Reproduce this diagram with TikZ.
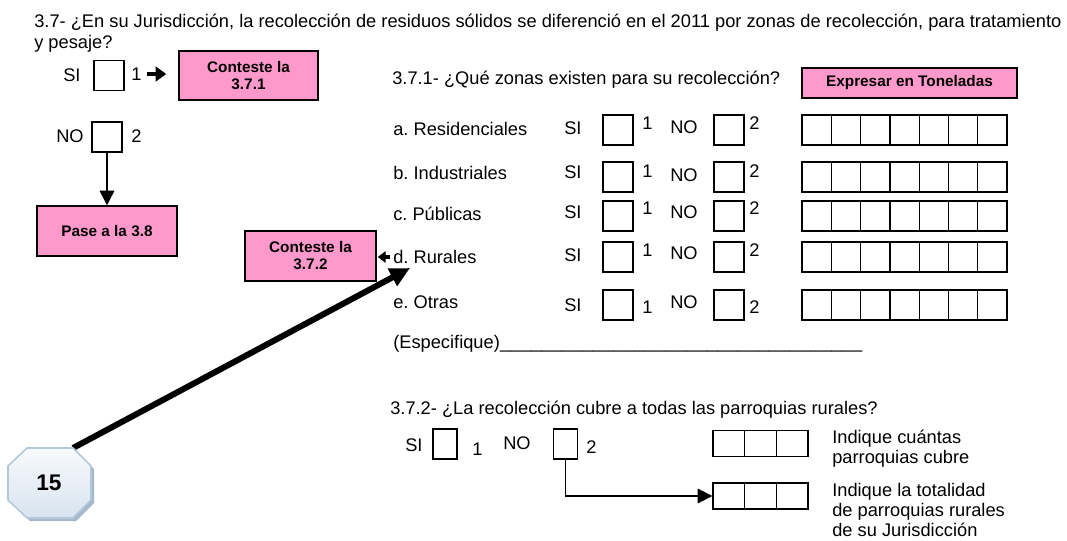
\documentclass[tikz,border=0pt]{standalone}
\usepackage{fontspec}
\setmainfont{Liberation Sans}
\usepackage{tikz}
\usetikzlibrary{arrows.meta,positioning,calc}
\definecolor{boxpink}{HTML}{FF99CC}
\definecolor{octline}{HTML}{B4C8DC}
\definecolor{octtop}{HTML}{F8FAFD}
\definecolor{octbot}{HTML}{D8E3EF}
\definecolor{octshadow}{HTML}{A3B8CC}
\frenchspacing

\begin{document}
\begin{tikzpicture}[x=0.75pt,y=-0.75pt,
    font=\fontsize{13.7}{13.5}\selectfont,
    txt/.style={inner sep=0pt, text height=9.8pt, text depth=0pt},
    chk/.style={draw, line width=1pt, inner sep=0pt, minimum width=22.5pt, minimum height=22.5pt},
    chknarrow/.style={chk, minimum width=18pt},
    cell/.style={draw, line width=1pt, inner sep=0pt, minimum width=21.97pt, minimum height=22.5pt},
    cellwide/.style={cell, minimum width=23.75pt, minimum height=19.5pt},
    pinkbox/.style={draw, fill=boxpink, line width=1.1pt, inner sep=0pt, align=center,
        font=\fontsize{11.5}{12.75}\selectfont\bfseries},
    flow/.style={line width=1.1pt, -{Triangle[length=11pt,width=11pt]}},
    fat/.style={line width=3.6pt, -{Triangle[length=8pt,width=11pt]}},
    small/.style={line width=2.6pt, -{Triangle[length=6pt,width=8.5pt]}},
    big/.style={line width=4.5pt, -{Triangle[length=15pt,width=14pt]}}]
        \useasboundingbox (0,0) rectangle (1067,541);

        %% question 3.7
        \node (q37)[anchor=north west, inner sep=0pt, align=left, font=\fontsize{13.7}{15.5}\selectfont] at (34,14)
            {3.7- ¿En su Jurisdicción, la recolección de residuos sólidos se diferenció en el 2011 por zonas de recolección, para tratamiento\\y pesaje?};
        \node (si)[txt, anchor=west] at (63,75) {SI};
        \node (sibox)[chk] at (109,75.5) {};
        \node (one)[txt, anchor=west] at (131,74) {1};
        \node (a371)[pinkbox, minimum width=104.25pt, minimum height=36.75pt] at (248.5,75.5) {Conteste la\\3.7.1};
        \node (no)[txt, anchor=west] at (56,136) {NO};
        \node (nobox)[chk] at (107,137) {};
        \node (two)[txt, anchor=west] at (131,136) {2};
        \node (pase)[pinkbox, minimum width=105pt, minimum height=37.5pt] at (107,231) {Pase a la 3.8};

        \draw[fat, shorten <=3.75pt, shorten >=9pt] (one.east) -- (a371.west |- one.east);
        \draw[flow] (nobox.south) -- (pase.north);

        %% question 3.7.1
        \node (q371)[txt, anchor=west] at (392,78) {3.7.1- ¿Qué zonas existen para su recolección?};
        \node (ton)[pinkbox, minimum width=161.25pt, minimum height=22.5pt] at (909.5,83) {Expresar en Toneladas};
        \foreach \n/\lab/\y/\ly/\sy/\oy/\ny/\ty in {
            a/a. Residenciales/130/129/128/123/127/123,
            b/b. Industriales/177/173/172/171/175/171,
            c/c. Públicas/216/214/212/208/212/208,
            d/d. Rurales/257/257/255/250/253/250,
            e/e. Otras/305/302/305/307/302/307}
        {
            \node (lab\n)[txt, anchor=west] at (393,\ly) {\lab};
            \node (si\n)[txt, anchor=west] at (564,\sy) {SI};
            \node (sib\n)[chk] at (618,\y) {};
            \node (one\n)[txt, anchor=west] at (642,\oy) {1};
            \node (no\n)[txt, anchor=west] at (670,\ny) {NO};
            \node (nob\n)[chk] at (729,\y) {};
            \node (two\n)[txt, anchor=west] at (749,\ty) {2};
            \foreach \i in {1,...,7}
                \node (t\n\i)[cell] at ({802+29.29*(\i-0.5)},\y) {};
        }
        \node (esp)[txt, anchor=west] at (393,342) {(Especifique)\hbox to 272pt{\xleaders\hbox{\_}\hfill}\kern0pt};

        \node (a372)[pinkbox, minimum width=98.25pt, minimum height=37.5pt] at (310.5,256) {Conteste la\\3.7.2};
        \draw[small, shorten <=2.25pt, shorten >=0.75pt] (labd.west) -- (a372.east |- labd.west);

        %% page number
        \coordinate (octc) at (73,448);
        \coordinate (tip) at (410,268);
        \draw[big] (octc) -- (tip);
        \fill[octshadow] (30,451) -- (76,451) -- (94,469) -- (94,503) -- (76,521) -- (30,521) -- (11,503) -- (11,469) -- cycle;
        \shadedraw[top color=octtop, bottom color=octbot, draw=octline, line width=1.2pt]
            (27,448) -- (73,448) -- (91,466) -- (91,500) -- (73,518) -- (27,518) -- (8,500) -- (8,466) -- cycle;
        \node (pg)[font=\fontsize{17}{17}\selectfont\bfseries] at (49,483) {15};

        %% question 3.7.2
        \node (q372)[txt, anchor=west] at (390,408) {3.7.2- ¿La recolección cubre a todas las parroquias rurales?};
        \node (si2)[txt, anchor=west] at (405,445) {SI};
        \node (sib2)[chknarrow] at (445,444) {};
        \node (one2)[txt, anchor=west] at (472,449) {1};
        \node (no2)[txt, anchor=west] at (503,443) {NO};
        \node (nob2)[chknarrow] at (565.5,444) {};
        \node (two2)[txt, anchor=west] at (586,447) {2};
        \foreach \i in {1,2,3} {
            \node (p\i)[cellwide] at ({713+31.67*(\i-0.5)},443.5) {};
            \node (r\i)[cellwide] at ({713+31.67*(\i-0.5)},496) {};
        }
        \node (cub)[anchor=north west, inner sep=0pt, align=left, font=\fontsize{13.7}{15}\selectfont] at (832,430)
            {Indique cuántas\\parroquias cubre};
        \node (tot)[anchor=north west, inner sep=0pt, align=left, font=\fontsize{13.7}{15}\selectfont] at (832,483)
            {Indique la totalidad\\de parroquias rurales\\de su Jurisdicción};
        \draw[flow] (nob2.south) |- (r1.west);

      \end{tikzpicture}
\end{document}
